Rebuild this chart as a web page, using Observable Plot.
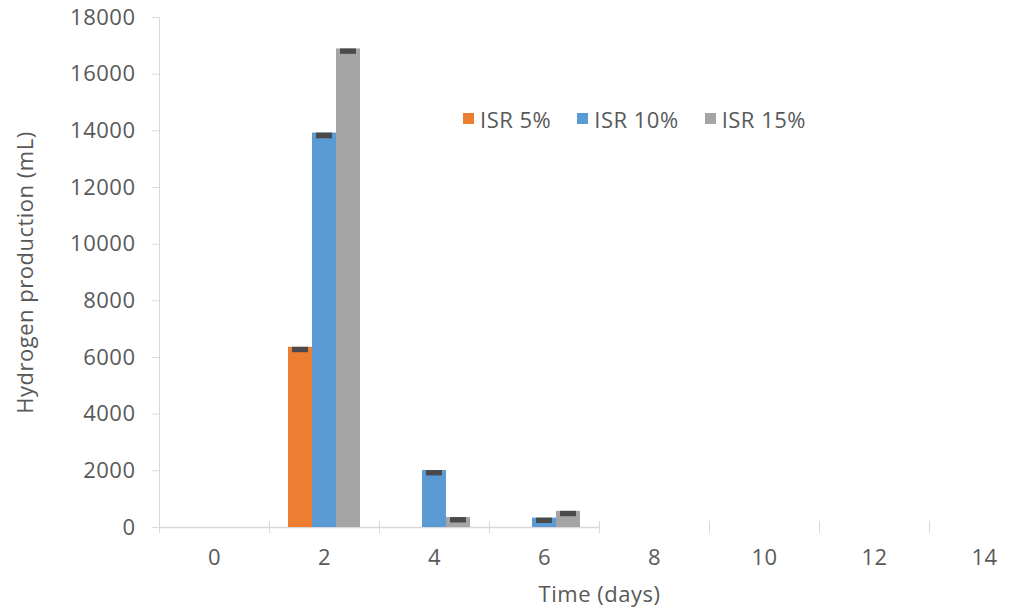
<!DOCTYPE html>
<html><head><meta charset="utf-8">
<script src="https://cdn.jsdelivr.net/npm/d3@7"></script>
<script src="https://cdn.jsdelivr.net/npm/@observablehq/plot@0.6"></script>
<style>
html,body{margin:0;padding:0;background:#fff;overflow:hidden;}
#chart{position:relative;width:1021px;height:610px;}
#legend{position:absolute;left:463px;top:102px;}
.lg-swatch{margin-right:26px !important;}
.lg-swatch > svg{margin-right:6px !important;}
</style></head><body><div id="chart"><div id="legend"></div></div>
<script>
const days = [0, 2, 4, 6, 8, 10, 12, 14];
const series = ["ISR 5%", "ISR 10%", "ISR 15%"];
const colors = ["#ED7D31", "#5B9BD5", "#A5A5A5"];
const isr5  = [0, 6360, 0, 0, 0, 0, 0, 0];
const isr10 = [0, 13920, 2010, 330, 0, 0, 0, 0];
const isr15 = [0, 16890, 350, 570, 0, 0, 0, 0];
const err5  = [0, 190, 0, 0, 0, 0, 0, 0];
const err10 = [0, 200, 190, 190, 0, 0, 0, 0];
const err15 = [0, 190, 190, 190, 0, 0, 0, 0];
const yTicks = [0, 2000, 4000, 6000, 8000, 10000, 12000, 14000, 16000, 18000];

const values = [isr5, isr10, isr15];
const errs = [err5, err10, err15];
const rows = [];
series.forEach((s, si) => days.forEach((d, di) => {
  if (values[si][di] > 0) rows.push({day: d, series: s, value: values[si][di], err: errs[si][di]});
}));

const W = 1021, H = 610, mL = 159, mR = -18, mT = 17, mB = 83;
const step = (W - mL - mR) / days.length;
const font = "'Open Sans', sans-serif";

const plot = Plot.plot({
  width: W, height: H,
  marginLeft: mL, marginRight: mR, marginTop: mT, marginBottom: mB,
  style: {fontFamily: font, fontSize: "22px", letterSpacing: "0.5px", color: "#595959", background: "white", overflow: "visible"},
  fx: {domain: days, padding: 0, axis: null},
  x: {domain: series, paddingInner: 0, paddingOuter: 0.79, axis: null},
  y: {domain: [0, 18000], axis: null},
  color: {domain: series, range: colors},
  marks: [
    Plot.frame({anchor: "left", stroke: "#d9d9d9", fx: [days[0]]}),
    Plot.ruleY([0], {stroke: "#d9d9d9", strokeWidth: 1.5}),
    Plot.barY(rows, {fx: "day", x: "series", y: "value", fill: "series"}),
    Plot.barY(rows, {fx: "day", x: "series", y1: d => d.value - d.err, y2: "value", fill: "#4a4a4a", insetLeft: 4, insetRight: 4}),
    Plot.axisY(yTicks, {anchor: "left", tickSize: 7, tickPadding: 17, stroke: "#d9d9d9", fill: "#595959",
      tickFormat: d3.format("d"), label: "Hydrogen production (mL)", labelAnchor: "center", labelArrow: false, labelOffset: 142}),
    Plot.axisFx({anchor: "bottom", tickSize: 12, dy: -6, dx: -step / 2, stroke: "#d9d9d9", tickFormat: null, label: null}),
    Plot.axisFx({anchor: "bottom", tickSize: 0, tickPadding: 22, fill: "#595959",
      label: "Time (days)", labelAnchor: "center", labelArrow: false, labelOffset: 74})
  ]
});
document.getElementById("chart").prepend(plot);

const leg = Plot.legend({
  color: {domain: series, range: colors},
  legend: "swatches", swatchSize: 11, className: "lg",
  style: {fontFamily: font, fontSize: "22px", letterSpacing: "0.5px", color: "#595959"}
});
document.getElementById("legend").append(leg);
</script></body></html>
